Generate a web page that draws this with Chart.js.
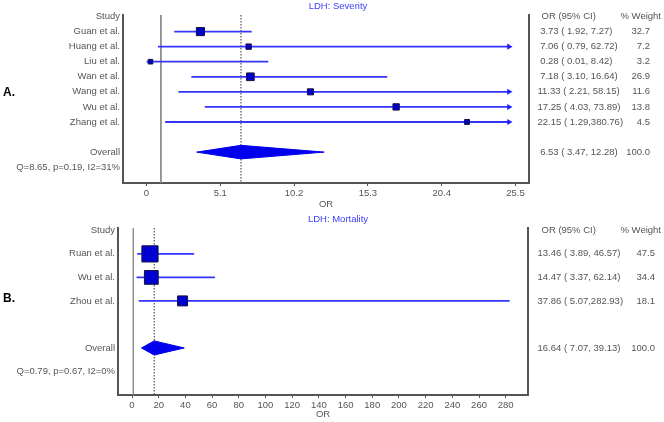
<!DOCTYPE html>
<html>
<head>
<meta charset="utf-8">
<script src="https://cdn.jsdelivr.net/npm/chart.js@4.4.1/dist/chart.umd.min.js"></script>
<style>
  body { margin: 0; background: #fff; width: 664px; height: 422px; overflow: hidden; }
  canvas { display: block; }
</style>
</head>
<body>
<canvas id="severity" width="664" height="212"></canvas>
<canvas id="mortality" width="664" height="210"></canvas>
<script>
// ---- A. LDH: Severity ----
const studiesA = ['Guan et al.', 'Huang et al.', 'Liu et al.', 'Wan et al.', 'Wang et al.', 'Wu et al.', 'Zhang et al.'];
const orA = [3.73, 7.06, 0.28, 7.18, 11.33, 17.25, 22.15];
const loA = [1.92, 0.79, 0.01, 3.10, 2.21, 4.03, 1.29];
const hiA = [7.27, 62.72, 8.42, 16.64, 58.15, 73.89, 380.76];
const weightA = [32.7, 7.2, 3.2, 26.9, 11.6, 13.8, 4.5];
const overallA = [6.53, 3.47, 12.28]; // OR, lower, upper
const hetA = 'Q=8.65, p=0.19, I2=31%';
const ticksA = [0, 5.1, 10.2, 15.3, 20.4, 25.5];
const tickLabelsA = ['0', '5.1', '10.2', '15.3', '20.4', '25.5'];

// ---- B. LDH: Mortality ----
const studiesB = ['Ruan et al.', 'Wu et al.', 'Zhou et al.'];
const orB = [13.46, 14.47, 37.86];
const loB = [3.89, 3.37, 5.07];
const hiB = [46.57, 62.14, 282.93];
const weightB = [47.5, 34.4, 18.1];
const overallB = [16.64, 7.07, 39.13];
const hetB = 'Q=0.79, p=0.67, I2=0%';
const ticksB = [0, 20, 40, 60, 80, 100, 120, 140, 160, 180, 200, 220, 240, 260, 280];
const tickLabelsB = ticksB.map(String);

const FONT = '"Liberation Sans", Arial, sans-serif';
const GREY = '#555';
Chart.defaults.font.family = FONT;
Chart.defaults.font.size = 9.5;
Chart.defaults.color = GREY;

function fmtCI(or, lo, hi) {
    return or.toFixed(2).padStart(5) + ' ( ' + lo.toFixed(2) + ',' + (hi < 100 ? ' ' : '') + hi.toFixed(2) + ')';
}

function forestPlot(id, p) {
    const n = p.studies.length;
    const overallRow = n + 2;
    const hetRow = n + 3;
    const [est, lo, hi] = p.overall;

    // one label per row: header, studies, blank, overall, heterogeneity
    const leftLabels = ['Study', ...p.studies, '', 'Overall', p.het];

    const datasets = [];

    // study boxes
    datasets.push({
        type: 'scatter',
        data: p.or.map((v, i) => ({ x: v, y: i + 1 })),
        pointStyle: 'rect',
        pointRadius: p.weights.map(w => p.boxSize(w) / Math.SQRT2),
        backgroundColor: '#0000d0',
        borderColor: '#14143c',
        borderWidth: 1,
        order: 0,
    });

    // confidence intervals (arrow when past the axis)
    p.studies.forEach((s, i) => {
        const clipped = p.hi[i] > p.arrowAt;
        datasets.push({
            type: 'line',
            data: [{ x: p.lo[i], y: i + 1 }, { x: clipped ? p.arrowAt : p.hi[i], y: i + 1 }],
            borderColor: '#3434ff',
            borderWidth: 1.8,
            pointStyle: 'triangle',
            rotation: 90,
            pointRadius: [0, clipped ? 3.5 : 0],
            pointBackgroundColor: '#1f1fff',
            pointBorderWidth: 0,
            order: 1,
        });
    });

    // overall diamond, two halves filled to the row line
    [-p.diamondH, p.diamondH].forEach(h => {
        datasets.push({
            type: 'line',
            data: [{ x: lo, y: overallRow }, { x: est, y: overallRow + h }, { x: hi, y: overallRow }],
            borderColor: '#0000ee',
            borderWidth: 1,
            backgroundColor: '#0000ee',
            fill: { value: overallRow },
            pointRadius: 0,
            order: 1,
        });
    });

    // pooled estimate (dotted) and line of no effect
    datasets.push({
        type: 'line',
        data: [{ x: est, y: p.yMin }, { x: est, y: p.yMax }],
        borderColor: '#333',
        borderWidth: 1,
        borderDash: [1.5, 1.5],
        pointRadius: 0,
        order: 2,
    });
    datasets.push({
        type: 'line',
        data: [{ x: 1, y: p.yMin }, { x: 1, y: p.yMax }],
        borderColor: '#8a8a8a',
        borderWidth: 1,
        pointRadius: 0,
        order: 3,
    });

    // right hand columns
    const sideRows = p.studies.map((s, i) => ({
        row: i + 1, ci: fmtCI(p.or[i], p.lo[i], p.hi[i]), w: p.weights[i].toFixed(1),
    }));
    sideRows.push({ row: overallRow, ci: fmtCI(est, lo, hi), w: '100.0' });

    const sideText = {
        id: 'sideText',
        afterDraw(chart) {
            const ctx = chart.ctx;
            const y = chart.scales.y;
            ctx.save();
            ctx.font = '9.5px ' + FONT;
            ctx.textBaseline = 'middle';
            ctx.fillStyle = GREY;
            const py0 = y.getPixelForValue(0);
            ctx.textAlign = 'left';
            ctx.fillText('OR (95% CI)', p.headX, py0);
            ctx.textAlign = 'right';
            ctx.fillText('% Weight', p.headWX, py0);
            sideRows.forEach(r => {
                const py = y.getPixelForValue(r.row);
                ctx.textAlign = 'left';
                ctx.fillText(r.ci, p.ciX, py);
                ctx.textAlign = 'right';
                ctx.fillText(r.w, p.wX, py);
            });
            // title
            ctx.fillStyle = '#3c3cff';
            ctx.textAlign = 'center';
            ctx.fillText(p.title, 338, p.titleY);
            // panel letter
            ctx.font = 'bold 12px ' + FONT;
            ctx.fillStyle = '#000';
            ctx.textAlign = 'left';
            ctx.textBaseline = 'alphabetic';
            ctx.fillText(p.letter, 3, p.letterY);
            ctx.restore();
        },
    };

    return new Chart(document.getElementById(id), {
        type: 'scatter',
        data: { datasets: datasets },
        options: {
            responsive: false,
            animation: false,
            layout: { padding: { top: p.top, left: 0, right: 0, bottom: 0 } },
            plugins: { legend: { display: false }, tooltip: { enabled: false }, title: { display: false } },
            scales: {
                x: {
                    type: 'linear',
                    min: p.xMin,
                    max: p.xMax,
                    afterBuildTicks: s => { s.ticks = p.ticks.map(v => ({ value: v })); },
                    afterFit: s => { s.height = p.xAxisH; },
                    ticks: { autoSkip: false, maxRotation: 0, padding: 2, color: GREY, callback: (v, i) => p.tickLabels[i] },
                    grid: { display: true, drawOnChartArea: false, drawTicks: true, tickLength: 3, color: GREY },
                    border: { display: true, color: GREY, width: 2 },
                    title: { display: true, text: 'OR', color: GREY, padding: { top: 0, bottom: 2 } },
                },
                y: {
                    type: 'linear',
                    position: 'left',
                    reverse: true,
                    min: p.yMin,
                    max: p.yMax,
                    afterBuildTicks: s => { s.ticks = leftLabels.map((_, i) => ({ value: i })); },
                    afterFit: s => { s.width = p.left; },
                    ticks: { autoSkip: false, padding: 3, color: GREY, callback: v => leftLabels[v] || '' },
                    grid: { display: false, drawTicks: false },
                    border: { display: true, color: GREY, width: 2 },
                },
                y2: {
                    type: 'linear',
                    position: 'right',
                    display: true,
                    reverse: true,
                    min: p.yMin,
                    max: p.yMax,
                    afterFit: s => { s.width = 664 - p.right; },
                    ticks: { display: false },
                    grid: { display: false, drawTicks: false },
                    border: { display: true, color: GREY, width: 2 },
                },
            },
        },
        plugins: [sideText],
    });
}

forestPlot('severity', {
    studies: studiesA, or: orA, lo: loA, hi: hiA, weights: weightA,
    overall: overallA, het: hetA, ticks: ticksA, tickLabels: tickLabelsA,
    title: 'LDH: Severity', letter: 'A.',
    xMin: -1.62, xMax: 26.43, yMin: -0.1, yMax: 11.05, arrowAt: 25.05,
    left: 123, right: 529, top: 15, xAxisH: 29,
    diamondH: 0.45, boxSize: w => 3 + 0.9 * Math.sqrt(w),
    headX: 541.5, headWX: 661, ciX: 537.5, wX: 650,
    titleY: 6, letterY: 95.5,
});

forestPlot('mortality', {
    studies: studiesB, or: orB, lo: loB, hi: hiB, weights: weightB,
    overall: overallB, het: hetB, ticks: ticksB, tickLabels: tickLabelsB,
    title: 'LDH: Mortality', letter: 'B.',
    xMin: -10.5, xMax: 296.7, yMin: -0.1, yMax: 7.0, arrowAt: 290,
    left: 118, right: 528, top: 16, xAxisH: 27,
    diamondH: 0.3, boxSize: w => 2.35 * Math.sqrt(w),
    headX: 541.5, headWX: 661, ciX: 537.5, wX: 655,
    titleY: 7, letterY: 89.8,
});
</script>
</body>
</html>
